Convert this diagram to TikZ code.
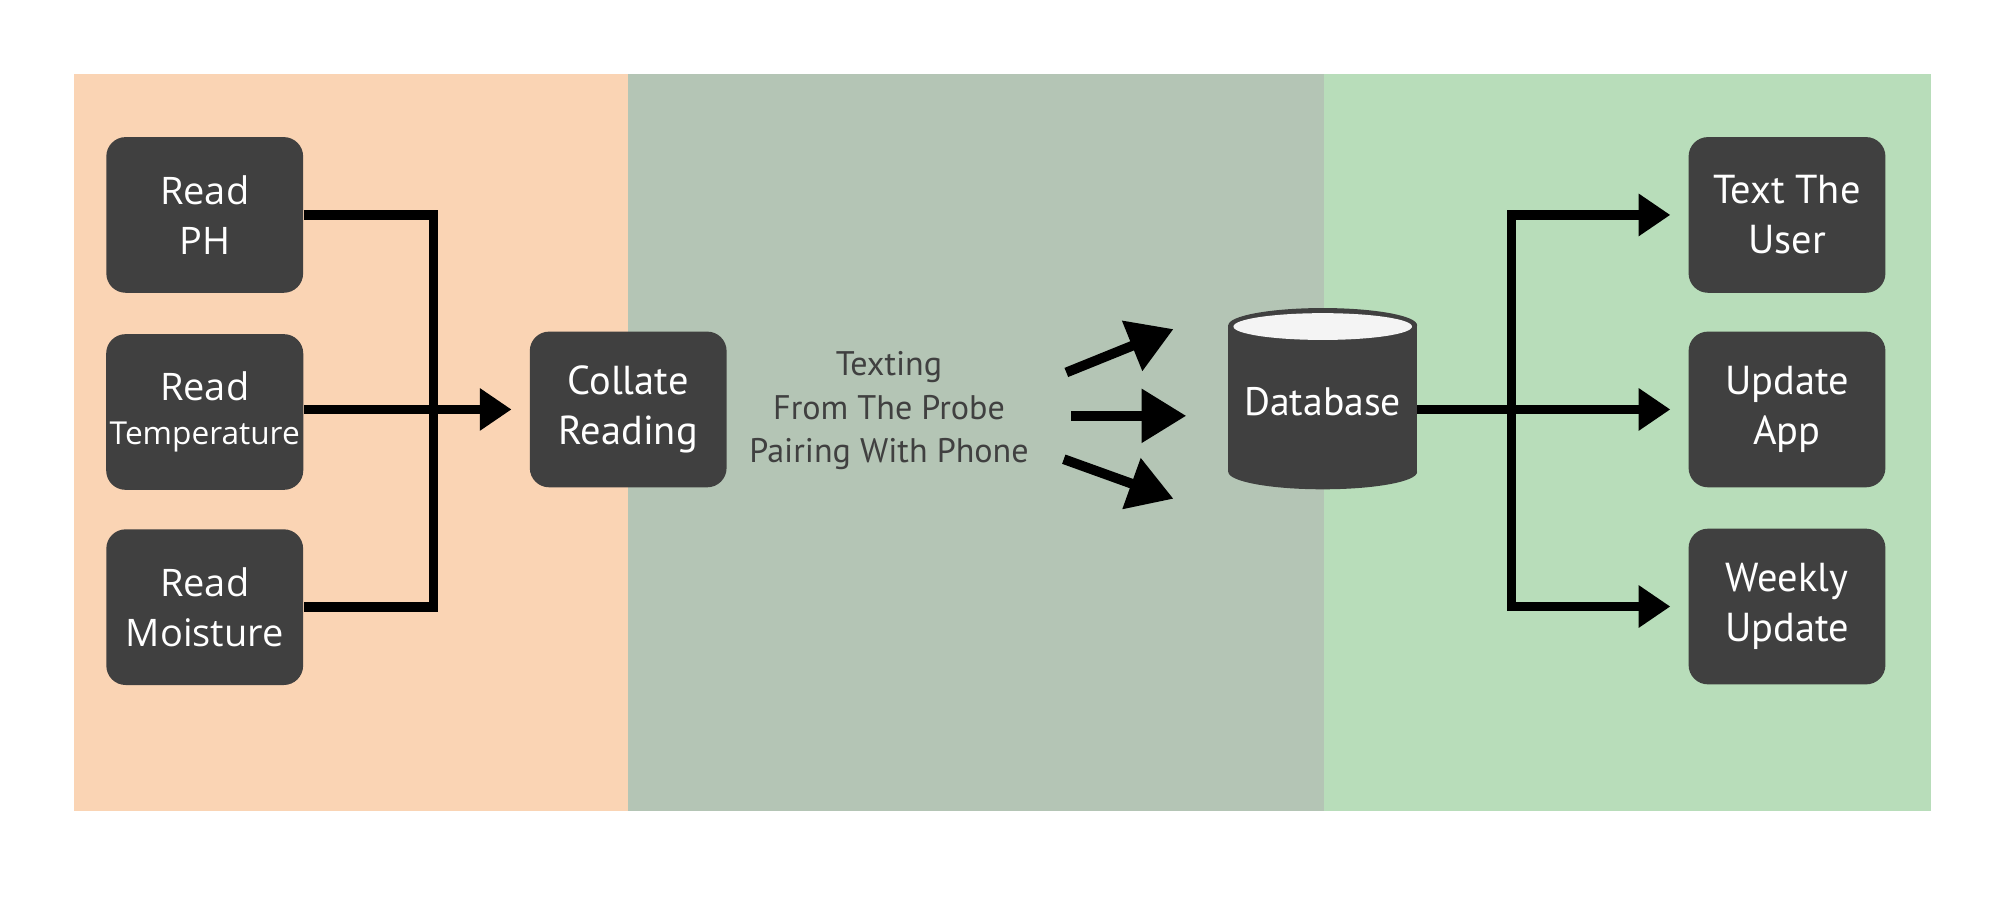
\documentclass[tikz,border=0pt]{standalone}
\usepackage{fontspec}
\setmainfont{PT Sans}
\newfontfamily\readfont{Open Sans}
\usetikzlibrary{arrows.meta}

\definecolor{bandsense}{RGB}{250,212,180}
\definecolor{bandlink}{RGB}{180,197,181}
\definecolor{bandcloud}{RGB}{184,221,186}
\definecolor{boxgrey}{RGB}{64,64,64}
\definecolor{dbtop}{RGB}{244,244,244}

\begin{document}
\begin{tikzpicture}[
    x=0.012755cm, y=-0.012755cm,
    box/.style={rectangle, fill=boxgrey, text=white, minimum width=56pt, minimum height=44.3pt, rounded corners=5.5pt, align=center, inner sep=1pt, font=\fontsize{11.5}{14.2}\selectfont},
    sensebox/.style={box, font=\readfont\fontsize{10.8}{14.2}\selectfont},
    link/.style={line width=2.7pt, draw=black},
    arrow/.style={link, -{Triangle[length=9pt, width=11.5pt]}, shorten >=5pt},
    bigarrow/.style={line width=2.8pt, -{Triangle[length=12.7pt, width=14.7pt]}}
]
    \useasboundingbox (0,0) rectangle (1568,710.3);

    % background bands
    \fill[bandsense] (58,58) rectangle (492,636);
    \fill[bandlink] (492,58) rectangle (1038,636);
    \fill[bandcloud] (1038,58) rectangle (1514,636);

    % sensor readings
    \node[sensebox] (ph) at (160.5,168.5) {Read\\PH};
    \node[sensebox] (temp) at (160.5,323) {Read\\[-1.5pt]{\fontsize{9}{10}\selectfont Temperature}};
    \node[sensebox] (moist) at (160.5,476) {Read\\Moisture};
    \node[box] (collate) at (492.5,321) {Collate\\Reading};

    \coordinate (join) at (340,321);
    \draw[link] (ph.east) -| (join) |- (moist.east);
    \draw[arrow] (temp.east |- collate.west) -- (collate.west);

    % transfer
    \node[text=boxgrey, align=center, font=\fontsize{9.7}{12.3}\selectfont] (probe) at (697,322) {Texting\\From The Probe\\Pairing With Phone};

    \coordinate (up from) at (836,292);
    \coordinate (up to) at (920,258);
    \coordinate (mid from) at (840,326);
    \coordinate (mid to) at (930,326);
    \coordinate (down from) at (834,360);
    \coordinate (down to) at (920,391);
    \draw[bigarrow] (up from) -- (up to);
    \draw[bigarrow] (mid from) -- (mid to);
    \draw[bigarrow] (down from) -- (down to);

    % database
    \fill[boxgrey] (963,255) rectangle (1111,370);
    \fill[boxgrey] (1037,370) ellipse [x radius=74, y radius=13.6];
    \fill[boxgrey] (1037,255) ellipse [x radius=74, y radius=13.5];
    \fill[dbtop] (1037,256) ellipse [x radius=70, y radius=10.5];
    \node[text=white, minimum width=53.5pt, inner sep=0pt, font=\fontsize{11.3}{13.7}\selectfont] (db) at (1037,315) {Database};

    % outputs
    \node[box] (user) at (1401,168.5) {Text The\\User};
    \node[box] (app) at (1401,321) {Update\\App};
    \node[box] (weekly) at (1401,475.5) {Weekly\\Update};

    \coordinate (split) at (1185,321);
    \draw[arrow] (db.east |- app.west) -- (app.west);
    \draw[arrow] (split) |- (user.west);
    \draw[arrow] (split) |- (weekly.west);
\end{tikzpicture}
\end{document}
